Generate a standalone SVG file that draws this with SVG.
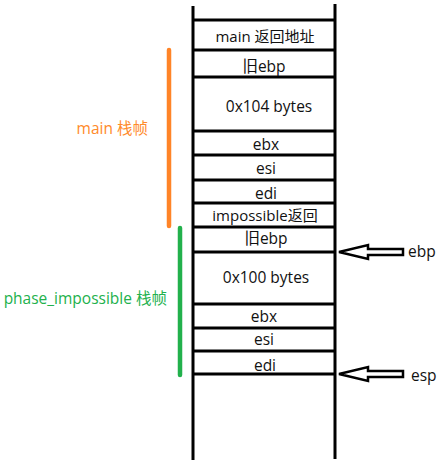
<svg xmlns="http://www.w3.org/2000/svg" width="445" height="467" viewBox="0 0 445 467">
<style>
.t{font-family:"Open Sans","Noto Sans CJK SC",sans-serif;font-size:15.5px;fill:#111;text-anchor:middle;dominant-baseline:central}
.l{stroke:#000;stroke-width:3;fill:none}
.a{stroke:#000;stroke-width:2.5;fill:#fff;stroke-linejoin:miter}
</style>
<rect width="445" height="467" fill="#fff"/>
<g id="stack">
<line class="l" x1="193" y1="6" x2="193" y2="460"/>
<line class="l" x1="335" y1="4" x2="335" y2="459"/>
<line class="l" x1="193" y1="20" x2="335" y2="20"/>
<line class="l" x1="193" y1="50" x2="335" y2="50"/>
<line class="l" x1="193" y1="77" x2="335" y2="77"/>
<line class="l" x1="193" y1="131" x2="335" y2="131"/>
<line class="l" x1="193" y1="155" x2="335" y2="155"/>
<line class="l" x1="193" y1="180" x2="335" y2="180"/>
<line class="l" x1="193" y1="203" x2="335" y2="203"/>
<line class="l" x1="193" y1="227" x2="335" y2="227"/>
<line class="l" x1="193" y1="252" x2="335" y2="252"/>
<line class="l" x1="193" y1="304" x2="335" y2="304"/>
<line class="l" x1="193" y1="328" x2="335" y2="328"/>
<line class="l" x1="193" y1="351" x2="335" y2="351"/>
<line class="l" x1="193" y1="374" x2="335" y2="374"/>
</g>
<g id="cell-main-ret"><text class="t" x="265" y="36" style="font-size:15px">main 返回地址</text></g>
<g id="cell-main-ebp"><text class="t" x="264" y="66">旧ebp</text></g>
<g id="cell-main-buf"><text class="t" x="269" y="106">0x104 bytes</text></g>
<g id="cell-main-ebx"><text class="t" x="266" y="144">ebx</text></g>
<g id="cell-main-esi"><text class="t" x="266" y="168">esi</text></g>
<g id="cell-main-edi"><text class="t" x="266" y="193">edi</text></g>
<g id="cell-imp-ret"><text class="t" x="265" y="215" style="font-size:15px">impossible返回</text></g>
<g id="cell-imp-ebp"><text class="t" x="266" y="238">旧ebp</text></g>
<g id="cell-imp-buf"><text class="t" x="266" y="277">0x100 bytes</text></g>
<g id="cell-imp-ebx"><text class="t" x="264" y="316">ebx</text></g>
<g id="cell-imp-esi"><text class="t" x="264" y="339">esi</text></g>
<g id="cell-imp-edi"><text class="t" x="265" y="365">edi</text></g>
<g id="main-frame">
<line x1="169" y1="50" x2="169" y2="226" stroke="#FF8427" stroke-width="4.5" stroke-linecap="round"/>
<text x="148" y="128" font-family="Open Sans,Noto Sans CJK SC,sans-serif" font-size="15.5" fill="#FF8A2A" text-anchor="end" dominant-baseline="central">main 栈帧</text>
</g>
<g id="imp-frame">
<line x1="180" y1="228" x2="180" y2="375" stroke="#22B14C" stroke-width="4.5" stroke-linecap="round"/>
<text x="167" y="298" font-family="Open Sans,Noto Sans CJK SC,sans-serif" font-size="15.5" fill="#22B14C" text-anchor="end" dominant-baseline="central">phase_impossible 栈帧</text>
</g>
<g id="connectors">
<polygon class="a" points="339,252 368,245 368,249 403,249 403,255 368,255 368,259"/>
<polygon class="a" points="339,374 368,367 368,371 403,371 403,377 368,377 368,381"/>
</g>
<g id="ebp-label"><text class="t" x="408" y="251" style="text-anchor:start">ebp</text></g>
<g id="esp-label"><text class="t" x="411" y="375" style="text-anchor:start">esp</text></g>
</svg>
